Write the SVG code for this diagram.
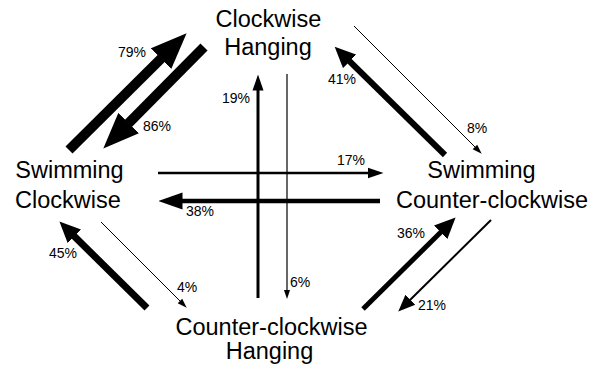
<svg xmlns="http://www.w3.org/2000/svg" width="602" height="365" viewBox="0 0 602 365">
<style>
.node text{font-family:"Liberation Sans",Arial,Helvetica,sans-serif;font-size:23.5px;fill:#000;text-anchor:middle}
.lbl{font-family:"Liberation Sans",Arial,Helvetica,sans-serif;font-size:14px;fill:#000}
.conn line{stroke:#000;stroke-linecap:butt;fill:none}
</style>
<defs>
<marker id="mBig" markerUnits="userSpaceOnUse" viewBox="0 -15 36 30" markerWidth="36" markerHeight="30" refX="0.5" refY="0" orient="auto"><path d="M0,-14.5 L36,0 L0,14.5 Z" fill="#000"/></marker>
<marker id="mMed" markerUnits="userSpaceOnUse" viewBox="0 -10 22 20" markerWidth="22" markerHeight="20" refX="0.5" refY="0" orient="auto"><path d="M0,-9.5 L21,0 L0,9.5 Z" fill="#000"/></marker>
<marker id="mH" markerUnits="userSpaceOnUse" viewBox="0 -9 24 18" markerWidth="24" markerHeight="18" refX="0.5" refY="0" orient="auto"><path d="M0,-8.5 L24,0 L0,8.5 Z" fill="#000"/></marker>
<marker id="mSm" markerUnits="userSpaceOnUse" viewBox="0 -8 17 16" markerWidth="17" markerHeight="16" refX="0.5" refY="0" orient="auto"><path d="M0,-7 L17,0 L0,7 Z" fill="#000"/></marker>
<marker id="mXs" markerUnits="userSpaceOnUse" viewBox="0 -6 16 12" markerWidth="16" markerHeight="12" refX="0.5" refY="0" orient="auto"><path d="M0,-5.5 L16,0 L0,5.5 Z" fill="#000"/></marker>
<marker id="mTiny" markerUnits="userSpaceOnUse" viewBox="0 -4 10 8" markerWidth="10" markerHeight="8" refX="0.5" refY="0" orient="auto"><path d="M0,-3.2 L9.5,0 L0,3.2 Z" fill="#000"/></marker>
</defs>

<g id="connectors" class="conn">
<line id="e79" x1="69" y1="150" x2="161.4" y2="58.3" stroke-width="10" marker-end="url(#mBig)"/>
<line id="e86" x1="204" y1="47" x2="128.3" y2="123.4" stroke-width="10" marker-end="url(#mBig)"/>
<line id="e41" x1="445" y1="155" x2="349.3" y2="61" stroke-width="6" marker-end="url(#mMed)"/>
<line id="e8" x1="354" y1="26" x2="475.3" y2="147.3" stroke-width="1" marker-end="url(#mTiny)"/>
<line id="e17" x1="158" y1="173" x2="368" y2="173" stroke-width="2.5" marker-end="url(#mXs)"/>
<line id="e38" x1="380" y1="201" x2="182" y2="201" stroke-width="4.5" marker-end="url(#mH)"/>
<line id="e19" x1="258" y1="298" x2="258" y2="90" stroke-width="3" marker-end="url(#mXs)"/>
<line id="e6" x1="287" y1="74" x2="287" y2="290" stroke-width="1.2" marker-end="url(#mTiny)"/>
<line id="e45" x1="147" y1="308" x2="74" y2="236" stroke-width="7" marker-end="url(#mMed)"/>
<line id="e4" x1="101" y1="222" x2="180.3" y2="301.3" stroke-width="1" marker-end="url(#mTiny)"/>
<line id="e36" x1="363" y1="309" x2="441" y2="232" stroke-width="5" marker-end="url(#mMed)"/>
<line id="e21" x1="491" y1="220" x2="410" y2="300" stroke-width="2" marker-end="url(#mSm)"/>
</g>

<g id="labels">
<text class="lbl" x="118" y="57">79%</text>
<text class="lbl" x="143" y="131">86%</text>
<text class="lbl" x="222" y="103">19%</text>
<text class="lbl" x="328" y="84">41%</text>
<text class="lbl" x="467" y="133">8%</text>
<text class="lbl" x="337" y="165">17%</text>
<text class="lbl" x="186" y="216">38%</text>
<text class="lbl" x="49" y="258">45%</text>
<text class="lbl" x="177" y="292">4%</text>
<text class="lbl" x="290" y="287">6%</text>
<text class="lbl" x="397" y="238">36%</text>
<text class="lbl" x="418" y="310">21%</text>
</g>

<g id="node-cw-hanging" class="node">
<text x="268.5" y="27">Clockwise</text>
<text x="268" y="55">Hanging</text>
</g>
<g id="node-sw-cw" class="node">
<text x="69.5" y="178">Swimming</text>
<text x="68" y="208">Clockwise</text>
</g>
<g id="node-sw-ccw" class="node">
<text x="481.5" y="178">Swimming</text>
<text x="492" y="208">Counter-clockwise</text>
</g>
<g id="node-ccw-hanging" class="node">
<text x="271.5" y="335">Counter-clockwise</text>
<text x="269.5" y="359">Hanging</text>
</g>
</svg>
